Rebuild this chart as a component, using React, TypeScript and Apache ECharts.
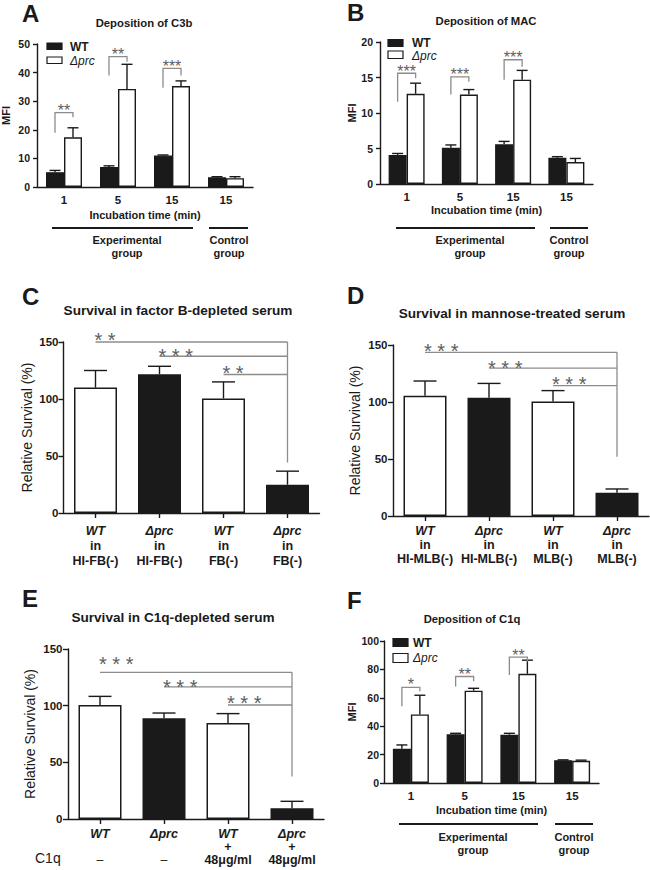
import React, { useEffect, useRef } from "react";
import * as echarts from "echarts";

const FONT = '"Liberation Sans", Arial, Helvetica, sans-serif';
const INK = "#1a1a1a";
const GREY = "#8c8c8c";
const STAR = "#5e5e5e";

// ---------- Panel A: Deposition of C3b ----------
const timeLabels = ["1", "5", "15", "15"];
const c3bWT = [5.2, 7.0, 11.0, 3.4];
const c3bWTsem = [0.6, 0.4, 0.2, 0.2];
const c3bPrc = [17.4, 34.3, 35.3, 3.1];
const c3bPrcSem = [3.3, 8.6, 1.8, 0.5];
const c3bSigCat = [0, 1, 2];
const c3bSigTop = [26, 45.6, 41.5];
const c3bSigLeft = [19, 39, 34.7];
const c3bSigRight = [24.4, 43.8, 39];
const c3bSigStarY = [27.9, 47.4, 43.5];
const c3bSigStars = ["**", "**", "***"];

// ---------- Panel B: Deposition of MAC ----------
const macWT = [4.1, 5.1, 5.6, 3.7];
const macWTsem = [0.2, 0.4, 0.4, 0.15];
const macPrc = [12.7, 12.6, 14.7, 3.1];
const macPrcSem = [1.5, 0.7, 1.3, 0.5];
const macSigCat = [0, 1, 2];
const macSigTop = [15.6, 15.1, 17.5];
const macSigLeft = [11.6, 12.6, 14.7];
const macSigRight = [14.9, 14.4, 16.5];
const macSigStarY = [16.3, 15.9, 18.3];
const macSigStars = ["***", "***", "***"];

// ---------- Panel C: Survival in factor B-depleted serum ----------
const strainC = ["WT", "Δprc", "WT", "Δprc"];
const serumC = ["HI-FB(-)", "HI-FB(-)", "FB(-)", "FB(-)"];
const survC = [110, 121.8, 100.5, 24.8];
const survCsd = [15, 6.9, 14.5, 11.9];
const sigFromC = [0, 1, 2];
const sigYC = [150, 137.5, 121.5];
const sigStarYC = [155.8, 141.3, 126.7];
const sigStarsC = ["* *", "* * *", "* *"];
const sigTargetC = 3;
const sigDropC = 44.3;

// ---------- Panel D: Survival in mannose-treated serum ----------
const strainD = ["WT", "Δprc", "WT", "Δprc"];
const serumD = ["HI-MLB(-)", "HI-MLB(-)", "MLB(-)", "MLB(-)"];
const survD = [105.5, 103.7, 100.5, 20.5];
const survDsd = [12.9, 12.6, 9.5, 3.2];
const sigFromD = [0, 1, 2];
const sigYD = [143.6, 129.8, 114.3];
const sigStarYD = [148.3, 134.2, 119.5];
const sigStarsD = ["* * *", "* * *", "* * *"];
const sigTargetD = 3;
const sigDropD = 52;

// ---------- Panel E: Survival in C1q-depleted serum ----------
const strainE = ["WT", "Δprc", "WT", "Δprc"];
const plusE = [" ", " ", "+", "+"];
const c1qE = ["–", "–", "48μg/ml", "48μg/ml"];
const survE = [100.6, 88.8, 84.7, 9.4];
const survEsd = [7.6, 4.7, 8.3, 6.2];
const sigFromE = [0, 1, 2];
const sigYE = [129.4, 116.5, 100.6];
const sigStarYE = [140.6, 120.6, 105.9];
const sigStarsE = ["* * *", "* * *", "* * *"];
const sigTargetE = 3;
const sigDropE = 37.6;

// ---------- Panel F: Deposition of C1q ----------
const c1qWT = [24.2, 34.3, 34.0, 16.1];
const c1qWTsem = [2.6, 0.7, 1.0, 0.2];
const c1qPrc = [48.3, 65.0, 76.9, 15.6];
const c1qPrcSem = [13.5, 1.7, 9.6, 0.5];
const c1qSigCat = [0, 1, 2];
const c1qSigTop = [67.4, 75, 88.6];
const c1qSigLeft = [54, 68, 76];
const c1qSigRight = [64.6, 71.6, 85.5];
const c1qSigStarY = [71.6, 79, 92.5];
const c1qSigStars = ["*", "**", "**"];

const SMALL_BAR = 18;
const BIG_BAR = 43;

function txt(text: string, x: number, y: number, o: any = {}) {
  return {
    type: "text",
    x,
    y,
    silent: true,
    style: {
      text,
      fill: o.fill || INK,
      fontSize: o.size || 11,
      fontWeight: o.weight || "bold",
      fontStyle: o.style || "normal",
      fontFamily: FONT,
      align: o.align || "center",
      verticalAlign: "middle",
    },
  };
}

function hline(x1: number, x2: number, y: number) {
  return {
    type: "line",
    silent: true,
    shape: { x1, y1: y, x2, y2: y },
    style: { stroke: INK, lineWidth: 1.8 },
  };
}

function legendBox(x: number, y: number, h: number, black: boolean) {
  return {
    type: "rect",
    silent: true,
    shape: { x, y, width: 15, height: h },
    style: { fill: black ? INK : "#fff", stroke: INK, lineWidth: 1.2 },
  };
}

function yAxisCfg(gi: number, max: number, interval: number, name: string, nameGap: number, big: boolean, margin: number) {
  return {
    gridIndex: gi,
    type: "value",
    min: 0,
    max,
    interval,
    name,
    nameLocation: "middle",
    nameRotate: 90,
    nameGap,
    nameTextStyle: big
      ? { fontFamily: FONT, fontSize: 14, fontWeight: "normal", color: INK }
      : { fontFamily: FONT, fontSize: 11, fontWeight: "bold", color: INK },
    axisLine: { show: true, lineStyle: { color: INK, width: 1.4 } },
    axisTick: { show: true, length: big ? 5 : 4, lineStyle: { color: INK, width: 1.4 } },
    splitLine: { show: false },
    axisLabel: {
      margin,
      fontFamily: FONT,
      fontSize: big ? 11.5 : 10.5,
      fontWeight: "bold",
      color: INK,
    },
  };
}

function timeXAxis(gi: number, nameGap: number) {
  return {
    gridIndex: gi,
    type: "category",
    data: timeLabels,
    name: "Incubation time (min)",
    nameLocation: "middle",
    nameGap,
    nameTextStyle: { fontFamily: FONT, fontSize: 11, fontWeight: "bold", color: INK },
    axisLine: { show: true, lineStyle: { color: INK, width: 1.4 } },
    axisTick: { show: false },
    axisLabel: { margin: 7, fontFamily: FONT, fontSize: 11.5, fontWeight: "bold", color: INK },
  };
}

function richXAxis(gi: number, strains: string[], formatter: (i: number) => string, lh: number, margin: number) {
  return {
    gridIndex: gi,
    type: "category",
    data: strains,
    axisLine: { show: true, lineStyle: { color: INK, width: 1.4 } },
    axisTick: { show: true, alignWithLabel: true, length: 5, lineStyle: { color: INK, width: 1.4 } },
    axisLabel: {
      margin,
      interval: 0,
      formatter: (_v: string, i: number) => formatter(i),
      rich: {
        i: { fontFamily: FONT, fontSize: 12.5, fontWeight: "bold", fontStyle: "italic", color: INK, lineHeight: lh, align: "center" },
        b: { fontFamily: FONT, fontSize: 12.5, fontWeight: "bold", color: INK, lineHeight: lh, align: "center" },
        n: { fontFamily: FONT, fontSize: 12.5, fontWeight: "normal", color: INK, lineHeight: lh, align: "center" },
      },
    },
  };
}

function groupedBars(gi: number, wt: number[], prc: number[]) {
  return [
    {
      type: "bar",
      name: "WT",
      xAxisIndex: gi,
      yAxisIndex: gi,
      data: wt,
      barWidth: SMALL_BAR,
      barGap: "0%",
      itemStyle: { color: INK, borderColor: INK, borderWidth: 1.3 },
      z: 2,
    },
    {
      type: "bar",
      name: "Δprc",
      xAxisIndex: gi,
      yAxisIndex: gi,
      data: prc,
      barWidth: SMALL_BAR,
      barGap: "0%",
      itemStyle: { color: "#fff", borderColor: INK, borderWidth: 1.4 },
      z: 2,
    },
  ];
}

function errorBars(gi: number, values: number[], errs: number[], shift: number, capHalf: number) {
  return {
    type: "custom",
    xAxisIndex: gi,
    yAxisIndex: gi,
    z: 5,
    silent: true,
    data: values.map((v, i) => [i, v, v + errs[i]]),
    renderItem: (_p: any, api: any) => {
      const b = api.coord([api.value(0), api.value(1)]);
      const t = api.coord([api.value(0), api.value(2)]);
      const x = b[0] + shift;
      const st = { stroke: INK, lineWidth: 1.4 };
      return {
        type: "group",
        children: [
          { type: "line", shape: { x1: x, y1: b[1], x2: x, y2: t[1] }, style: st },
          { type: "line", shape: { x1: x - capHalf, y1: t[1], x2: x + capHalf, y2: t[1] }, style: st },
        ],
      };
    },
  };
}

function brackets(gi: number, cats: number[], tops: number[], lefts: number[], rights: number[], starYs: number[], stars: string[]) {
  return {
    type: "custom",
    xAxisIndex: gi,
    yAxisIndex: gi,
    z: 6,
    silent: true,
    data: cats.map((c, i) => [c, tops[i], lefts[i], rights[i], starYs[i]]),
    renderItem: (p: any, api: any) => {
      const c = api.value(0);
      const top = api.coord([c, api.value(1)]);
      const yl = api.coord([c, api.value(2)])[1];
      const yr = api.coord([c, api.value(3)])[1];
      const ys = api.coord([c, api.value(4)])[1];
      const h = SMALL_BAR / 2;
      return {
        type: "group",
        children: [
          {
            type: "polyline",
            shape: { points: [[top[0] - h, yl], [top[0] - h, top[1]], [top[0] + h, top[1]], [top[0] + h, yr]] },
            style: { stroke: GREY, fill: null, lineWidth: 1.3 },
          },
          {
            type: "text",
            x: top[0],
            y: ys + 3.5,
            style: { text: stars[p.dataIndex], fill: STAR, fontSize: 16, fontFamily: FONT, align: "center", verticalAlign: "middle" },
          },
        ],
      };
    },
  };
}

function survivalBars(gi: number, strains: string[], values: number[]) {
  return {
    type: "bar",
    xAxisIndex: gi,
    yAxisIndex: gi,
    barWidth: BIG_BAR,
    z: 2,
    data: values.map((v, i) => ({
      value: v,
      itemStyle: { color: strains[i] === "WT" ? "#fff" : INK, borderColor: INK, borderWidth: 1.5 },
    })),
  };
}

function sigLines(gi: number, froms: number[], target: number, ys: number[], starYs: number[], stars: string[], drop: number) {
  return [
    {
      type: "custom",
      xAxisIndex: gi,
      yAxisIndex: gi,
      z: 6,
      silent: true,
      data: froms.map((f, i) => [f, target, ys[i], starYs[i]]),
      renderItem: (p: any, api: any) => {
        const a = api.coord([api.value(0), api.value(2)]);
        const b = api.coord([api.value(1), api.value(2)]);
        const s = api.coord([api.value(0), api.value(3)]);
        return {
          type: "group",
          children: [
            { type: "line", shape: { x1: a[0], y1: a[1], x2: b[0], y2: b[1] }, style: { stroke: GREY, lineWidth: 1.3 } },
            {
              type: "text",
              x: s[0] - 1,
              y: s[1] + 4.5,
              style: { text: stars[p.dataIndex], fill: STAR, fontSize: 20, fontFamily: FONT, align: "left", verticalAlign: "middle" },
            },
          ],
        };
      },
    },
    {
      type: "custom",
      xAxisIndex: gi,
      yAxisIndex: gi,
      z: 6,
      silent: true,
      data: [[target, Math.max(...ys), drop]],
      renderItem: (_p: any, api: any) => {
        const a = api.coord([api.value(0), api.value(1)]);
        const b = api.coord([api.value(0), api.value(2)]);
        return { type: "line", shape: { x1: a[0], y1: a[1], x2: b[0], y2: b[1] }, style: { stroke: GREY, lineWidth: 1.3 } };
      },
    },
  ];
}

export default function App() {
  const ref = useRef<HTMLDivElement>(null);

  useEffect(() => {
    if (!ref.current) return;
    const chart = echarts.init(ref.current, undefined, { renderer: "svg" });

    const grids = [
      { left: 37, top: 44, width: 216, height: 143 }, // A
      { left: 380, top: 42, width: 213, height: 142 }, // B
      { left: 63.5, top: 342, width: 256, height: 171 }, // C
      { left: 393, top: 345, width: 256, height: 171 }, // D
      { left: 68, top: 649, width: 256, height: 170 }, // E
      { left: 384, top: 641, width: 215, height: 142 }, // F
    ].map((g) => ({ ...g, containLabel: false, outerBoundsMode: "none" }));

    const xAxis = [
      timeXAxis(0, 22),
      timeXAxis(1, 20.5),
      richXAxis(2, strainC, (i) => `{i|${strainC[i]}}\n{b|in}\n{b|${serumC[i]}}`, 15, 10),
      richXAxis(3, strainD, (i) => `{i|${strainD[i]}}\n{b|in}\n{b|${serumD[i]}}`, 14, 8),
      richXAxis(4, strainE, (i) => `{i|${strainE[i]}}\n{b|${plusE[i]}}\n{${c1qE[i] === "–" ? "n" : "b"}|${c1qE[i]}}`, 13, 8),
      timeXAxis(5, 21.5),
    ];

    const yAxis = [
      yAxisCfg(0, 50, 10, "MFI", 26, false, 7),
      yAxisCfg(1, 20, 5, "MFI", 22, false, 7),
      yAxisCfg(2, 150, 50, "Relative Survival (%)", 29.5, true, 5),
      yAxisCfg(3, 150, 50, "Relative Survival (%)", 31, true, 5.5),
      yAxisCfg(4, 150, 50, "Relative Survival (%)", 31, true, 5.5),
      yAxisCfg(5, 100, 20, "MFI", 25, false, 5),
    ];

    const H = SMALL_BAR / 2;
    const series: any[] = [
      // A
      ...groupedBars(0, c3bWT, c3bPrc),
      errorBars(0, c3bWT, c3bWTsem, -H, 5.5),
      errorBars(0, c3bPrc, c3bPrcSem, H, 5.5),
      brackets(0, c3bSigCat, c3bSigTop, c3bSigLeft, c3bSigRight, c3bSigStarY, c3bSigStars),
      // B
      ...groupedBars(1, macWT, macPrc),
      errorBars(1, macWT, macWTsem, -H, 5.5),
      errorBars(1, macPrc, macPrcSem, H, 5.5),
      brackets(1, macSigCat, macSigTop, macSigLeft, macSigRight, macSigStarY, macSigStars),
      // C
      survivalBars(2, strainC, survC),
      errorBars(2, survC, survCsd, 0, 11.5),
      ...sigLines(2, sigFromC, sigTargetC, sigYC, sigStarYC, sigStarsC, sigDropC),
      // D
      survivalBars(3, strainD, survD),
      errorBars(3, survD, survDsd, 0, 11.5),
      ...sigLines(3, sigFromD, sigTargetD, sigYD, sigStarYD, sigStarsD, sigDropD),
      // E
      survivalBars(4, strainE, survE),
      errorBars(4, survE, survEsd, 0, 11.5),
      ...sigLines(4, sigFromE, sigTargetE, sigYE, sigStarYE, sigStarsE, sigDropE),
      // F
      ...groupedBars(5, c1qWT, c1qPrc),
      errorBars(5, c1qWT, c1qWTsem, -H, 5.5),
      errorBars(5, c1qPrc, c1qPrcSem, H, 5.5),
      brackets(5, c1qSigCat, c1qSigTop, c1qSigLeft, c1qSigRight, c1qSigStarY, c1qSigStars),
    ];

    const graphic: any[] = [
      // panel letters
      txt("A", 22, 13, { size: 24, align: "left" }),
      txt("B", 347, 12, { size: 24, align: "left" }),
      txt("C", 22, 296.5, { size: 24, align: "left" }),
      txt("D", 347, 295, { size: 24, align: "left" }),
      txt("E", 22, 598.5, { size: 24, align: "left" }),
      txt("F", 347, 600, { size: 24, align: "left" }),
      // titles
      txt("Deposition of C3b", 144, 22.5, { size: 11.3 }),
      txt("Deposition of MAC", 486, 21, { size: 11.3 }),
      txt("Survival in factor B-depleted serum", 178, 310, { size: 13.6 }),
      txt("Survival in mannose-treated serum", 512, 313, { size: 13.6 }),
      txt("Survival in C1q-depleted serum", 173, 617, { size: 13.6 }),
      txt("Deposition of C1q", 472, 619, { size: 11.3 }),
      // legends
      legendBox(47, 43, 6.5, true),
      legendBox(47, 57, 6.5, false),
      txt("WT", 70, 46.5, { size: 12, align: "left" }),
      txt("Δprc", 70, 61, { size: 12, align: "left", weight: "normal", style: "italic" }),
      legendBox(388, 39.5, 7, true),
      legendBox(388, 51, 7.5, false),
      txt("WT", 412, 43, { size: 12, align: "left" }),
      txt("Δprc", 412, 56, { size: 12, align: "left", weight: "normal", style: "italic" }),
      legendBox(393, 638.5, 8, true),
      legendBox(393, 653.5, 9, false),
      txt("WT", 413, 642.5, { size: 12, align: "left" }),
      txt("Δprc", 413, 658, { size: 12, align: "left", weight: "normal", style: "italic" }),
      // group bars under A/B/F
      hline(52, 193, 228),
      hline(209, 248, 228),
      txt("Experimental", 127, 240, { size: 11 }),
      txt("group", 127, 253, { size: 11 }),
      txt("Control", 229, 240, { size: 11 }),
      txt("group", 229, 253, { size: 11 }),
      hline(396, 535, 228),
      hline(550, 588, 228),
      txt("Experimental", 470, 240, { size: 11 }),
      txt("group", 470, 253, { size: 11 }),
      txt("Control", 569, 240, { size: 11 }),
      txt("group", 569, 253, { size: 11 }),
      hline(399, 538, 824),
      hline(555, 593, 824),
      txt("Experimental", 473, 837, { size: 11 }),
      txt("group", 473, 850, { size: 11 }),
      txt("Control", 574, 837, { size: 11 }),
      txt("group", 574, 850, { size: 11 }),
      // E row label
      txt("C1q", 35, 857.5, { size: 14, align: "left", weight: "normal" }),
    ];

    chart.setOption({
      animation: false,
      backgroundColor: "#fff",
      textStyle: { fontFamily: FONT },
      grid: grids,
      xAxis,
      yAxis,
      series,
      graphic,
    });

    return () => chart.dispose();
  }, []);

  return (
    <div
      ref={ref}
      style={{ position: "fixed", left: 0, top: 0, width: 650, height: 870, background: "#fff" }}
    />
  );
}
